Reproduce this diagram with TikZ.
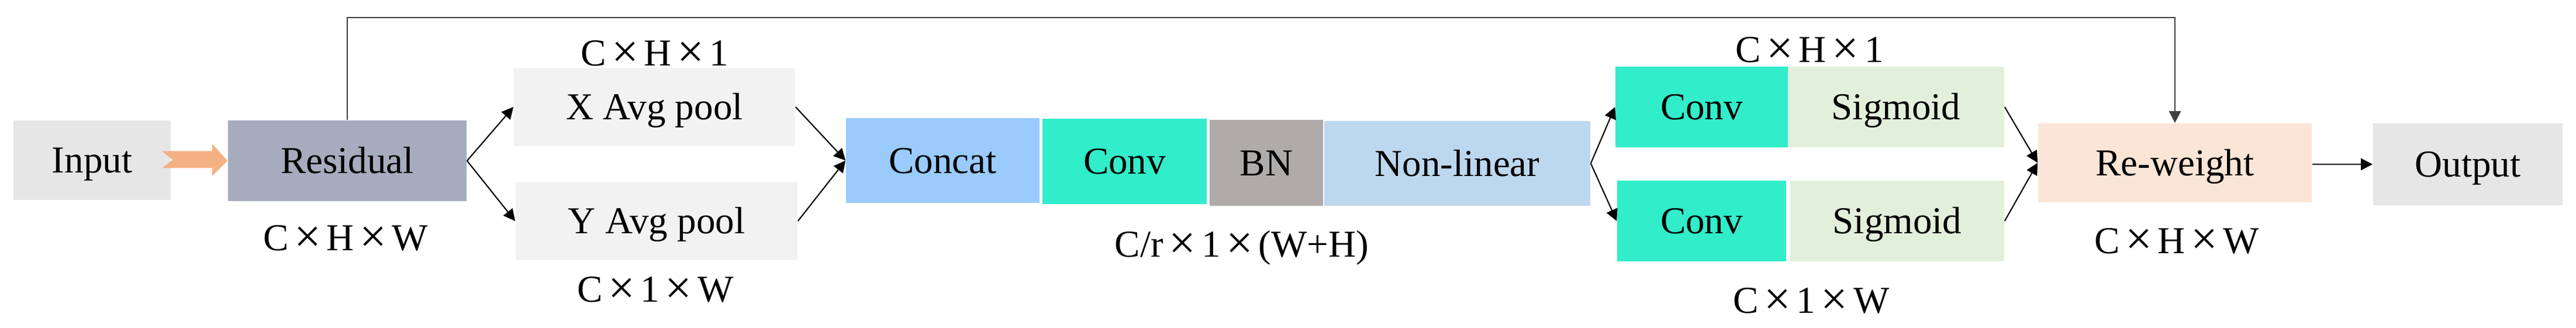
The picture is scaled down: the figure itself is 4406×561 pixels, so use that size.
\documentclass[tikz,border=0pt]{standalone}
\usepackage{fontspec}
\setmainfont{Liberation Serif}
\usetikzlibrary{arrows.meta,calc}
\definecolor{cinput}{HTML}{E6E6E6}
\definecolor{cres}{HTML}{A6ACBE}
\definecolor{corange}{HTML}{F4B183}
\definecolor{cpool}{HTML}{F2F2F2}
\definecolor{cconcat}{HTML}{9ACBFC}
\definecolor{cconv}{HTML}{32EDCA}
\definecolor{cbn}{HTML}{AFABAB}
\definecolor{cnl}{HTML}{BDD7EE}
\definecolor{csig}{HTML}{E2EFDA}
\definecolor{crw}{HTML}{FBE5D6}
\definecolor{cline}{HTML}{404040}
\newcommand{\tms}{\makebox[1em]{\raisebox{-0.03cm}{\scalebox{1.25}{×}}}}
\tikzset{
  box/.style={inner sep=0pt, text height=0.43cm, text depth=0pt,
    font=\fontsize{18.5pt}{22pt}\selectfont},
  lab/.style={inner sep=0pt, anchor=base, font=\fontsize{18.5pt}{22pt}\selectfont},
  conn/.style={draw=black, line width=0.6pt, -{Triangle[length=0.2cm,width=0.2cm]}},
}
\begin{document}
\begin{tikzpicture}[x=0.01cm,y=-0.01cm]
\useasboundingbox (0,0) rectangle (4406,561);
% boxes
\node[box, fill=cinput, minimum width=2.69cm, minimum height=1.36cm] (inp) at (157.5,274) {Input};
\node[box, fill=cres, minimum width=4.08cm, minimum height=1.38cm] (res) at (594,275) {Residual};
\node[box, fill=cpool, minimum width=4.81cm, minimum height=1.34cm] (xp) at (1119.5,183) {X Avg pool};
\node[box, fill=cpool, minimum width=4.82cm, minimum height=1.34cm] (yp) at (1123,378) {Y Avg pool};
\node[box, fill=cconcat, minimum width=3.31cm, minimum height=1.45cm] (cat) at (1612.5,274.5) {Concat};
\node[box, fill=cconv, minimum width=2.81cm, minimum height=1.46cm] (cv) at (1923.5,276) {Conv};
\node[box, fill=cbn, minimum width=1.94cm, minimum height=1.47cm] (bn) at (2166,278.5) {BN};
\node[box, fill=cnl, minimum width=4.55cm, minimum height=1.45cm] (nl) at (2492.5,279.5) {Non-linear};
\node[box, fill=cconv, minimum width=2.95cm, minimum height=1.38cm] (cva) at (2910.5,183) {Conv};
\node[box, fill=csig, minimum width=3.70cm, minimum height=1.38cm] (sga) at (3243,183) {Sigmoid};
\node[box, fill=cconv, minimum width=2.89cm, minimum height=1.38cm] (cvb) at (2910.5,378) {Conv};
\node[box, fill=csig, minimum width=3.66cm, minimum height=1.38cm] (sgb) at (3245,378) {Sigmoid};
\node[box, fill=crw, minimum width=4.68cm, minimum height=1.35cm] (rw) at (3720,278.5) {Re-weight};
\node[box, fill=cinput, minimum width=3.24cm, minimum height=1.40cm] (out) at (4221,281) {Output};
% labels
\node[lab] (l1) at (591,429) {C\tms H\tms W};
\node[lab] (l2) at (1120,113) {C\tms H\tms 1};
\node[lab] (l3) at (1121,517) {C\tms 1\tms W};
\node[lab] (l4) at (2124,440) {C/r\tms 1\tms (W+H)};
\node[lab] (l5) at (3095,107) {C\tms H\tms 1};
\node[lab] (l6) at (3098,535) {C\tms 1\tms W};
\node[lab] (l7) at (3723,433) {C\tms H\tms W};
% orange arrow
\fill[corange] (277,258.5) -- (363,258.5) -- (363,246) -- (res.west) -- (363,301) -- (363,287.5) -- (277,287.5) -- (295,273.5) -- cycle;
% connectors
\draw[conn] (res.east) -- (xp.west);
\draw[conn] (res.east) -- (yp.west);
\draw[conn] (xp.east) -- (cat.west);
\draw[conn] (yp.east) -- (cat.west);
\draw[conn] (nl.east) -- (cva.west);
\draw[conn] (nl.east) -- (cvb.west);
\draw[conn] (sga.east) -- (rw.west);
\draw[conn] (sgb.east) -- (rw.west);
\draw[conn] (out.west -| rw.east) -- (out.west);
\coordinate (top) at (0,30);
\draw[conn, draw=cline, line width=0.8pt] (res.north) -- (res.north |- top) -| (rw.north);
\end{tikzpicture}
\end{document}
